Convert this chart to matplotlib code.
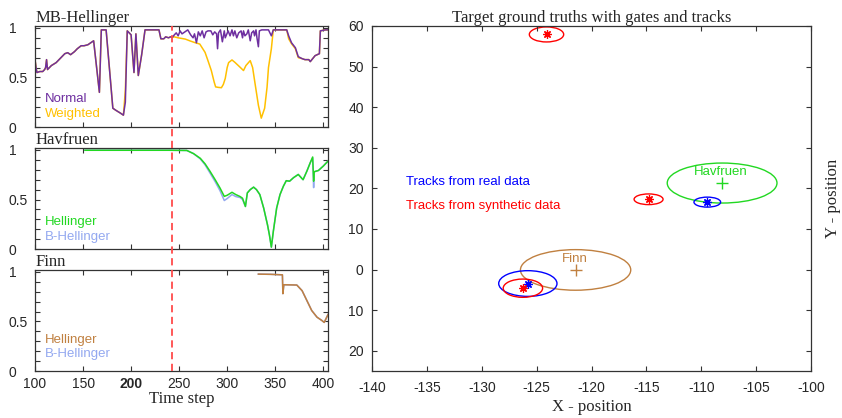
import numpy as np
import matplotlib
matplotlib.use("Agg")
import matplotlib.pyplot as plt
from matplotlib.patches import Ellipse
from matplotlib.lines import Line2D
from matplotlib.transforms import blended_transform_factory
from matplotlib.ticker import MultipleLocator

plt.rcParams['font.family'] = ['Liberation Sans', 'DejaVu Sans']
plt.rcParams['axes.unicode_minus'] = False
SERIF = ['Liberation Serif', 'DejaVu Serif']

# ---- MB-Hellinger panel ----
t_normal = [100, 101, 102, 105, 108, 110, 111, 112, 113, 117,
            122, 127, 131, 134, 137, 141, 144, 148, 151, 155,
            158, 161, 167, 169, 174, 181, 184, 189, 192, 194,
            196, 200, 203, 205, 207.5, 211, 214.5, 229, 231, 234,
            236, 239, 241, 243, 245, 247, 249, 251, 253, 256,
            259, 262, 264.5, 266, 268, 270, 272, 274, 276, 278,
            280, 283, 285, 287, 289, 290, 291, 293, 295, 297,
            298, 301, 303, 305, 306.5, 308, 310, 312, 314.5, 316,
            317, 318.5, 320.5, 322, 324, 325.5, 327.5, 328.5, 330, 331,
            332.5, 333.5, 336, 343, 346, 348, 362, 364, 367, 371,
            374, 378, 381, 385, 386.5, 389, 391.5, 396, 397, 402,
            405]
normal = [0.68, 0.60, 0.55, 0.56, 0.56, 0.58, 0.60, 0.68, 0.58, 0.62,
          0.65, 0.70, 0.74, 0.75, 0.73, 0.76, 0.79, 0.82, 0.82, 0.83,
          0.85, 0.87, 0.35, 0.98, 0.98, 0.19, 0.17, 0.14, 0.12, 0.25,
          0.97, 0.93, 0.55, 0.94, 0.52, 0.73, 0.98, 0.98, 0.89, 0.89,
          0.91, 0.90, 0.91, 0.905, 0.93, 0.95, 0.92, 0.97, 0.94, 0.96,
          0.98, 0.93, 0.90, 0.94, 0.85, 0.96, 0.92, 0.97, 0.90, 0.96,
          0.97, 0.97, 0.93, 0.96, 0.94, 0.79, 0.95, 0.98, 0.86, 0.97,
          0.90, 0.97, 0.92, 0.98, 0.92, 0.97, 0.90, 0.95, 0.97, 0.90,
          0.97, 0.92, 0.94, 0.98, 0.87, 0.95, 0.97, 0.92, 0.98, 0.90,
          0.81, 0.97, 0.98, 0.98, 0.92, 0.98, 0.98, 0.92, 0.85, 0.80,
          0.71, 0.69, 0.68, 0.68, 0.66, 0.69, 0.72, 0.74, 0.97, 0.98,
          0.98]

t_weighted = [100, 101, 102, 105, 108, 110, 111, 112, 113, 117,
              122, 127, 131, 134, 137, 141, 144, 148, 151, 155,
              158, 161, 167, 169, 174, 181, 184, 189, 192, 194,
              196, 200, 203, 205, 207.5, 211, 214.5, 229, 231, 234,
              236, 239, 241, 243, 245, 249, 256.5, 261, 266, 271.5,
              277, 280, 283.5, 286.5, 288, 291, 294, 296, 298, 300,
              301.5, 305, 308, 313.5, 317, 319.5, 324, 326.5, 329, 332.5,
              335.5, 339, 341.5, 343, 346, 348, 362, 364, 367, 371,
              374, 378, 381, 385, 386.5, 389, 391.5, 396, 397, 402,
              405]
weighted = [0.68, 0.60, 0.55, 0.56, 0.56, 0.58, 0.60, 0.68, 0.58, 0.62,
            0.65, 0.70, 0.74, 0.75, 0.73, 0.76, 0.79, 0.82, 0.82, 0.83,
            0.85, 0.87, 0.35, 0.98, 0.98, 0.19, 0.17, 0.14, 0.12, 0.37,
            0.97, 0.93, 0.55, 0.94, 0.52, 0.73, 0.98, 0.98, 0.89, 0.89,
            0.91, 0.90, 0.91, 0.905, 0.91, 0.90, 0.887, 0.87, 0.853, 0.837,
            0.753, 0.67, 0.57, 0.453, 0.405, 0.40, 0.397, 0.43, 0.49, 0.60,
            0.65, 0.677, 0.653, 0.603, 0.57, 0.62, 0.67, 0.60, 0.44, 0.22,
            0.09, 0.19, 0.40, 0.60, 0.79, 0.98, 0.98, 0.89, 0.84, 0.79,
            0.70, 0.69, 0.68, 0.68, 0.66, 0.69, 0.72, 0.74, 0.97, 0.98,
            0.98]

# ---- Havfruen panel ----
t_hav = [152, 200, 240, 258, 265, 272, 277, 282, 287.5, 292.5,
         297, 300, 305, 309, 313.5, 316, 319, 321, 324, 327.5,
         330.5, 334, 338, 342, 344, 346, 348, 351.5, 355, 358.5,
         361.5, 365, 369, 374, 379, 383, 386.5, 389, 390, 390.5,
         395, 400, 405]
hav_hell = [0.997, 0.997, 0.997, 0.995, 0.963, 0.916, 0.86, 0.787, 0.70, 0.617,
            0.532, 0.543, 0.573, 0.55, 0.53, 0.513, 0.43, 0.567, 0.60, 0.625,
            0.60, 0.55, 0.414, 0.244, 0.142, 0.02, 0.176, 0.414, 0.55, 0.634,
            0.69, 0.685, 0.72, 0.753, 0.70, 0.787, 0.872, 0.929, 0.685, 0.78,
            0.793, 0.837, 0.888]
hav_bhell = [0.997, 0.997, 0.997, 0.995, 0.963, 0.91, 0.85, 0.77, 0.68, 0.59,
             0.49, 0.51, 0.55, 0.53, 0.52, 0.50, 0.43, 0.567, 0.60, 0.625,
             0.60, 0.55, 0.414, 0.244, 0.142, 0.02, 0.176, 0.414, 0.55, 0.634,
             0.69, 0.685, 0.72, 0.753, 0.70, 0.787, 0.872, 0.92, 0.62, 0.78,
             0.793, 0.837, 0.888]

# ---- Finn panel ----
t_finn = [332.5, 345, 357.5, 358, 359, 372.5, 378, 383, 388, 393.5, 398.5, 401, 405]
finn_hell = [0.977, 0.975, 0.97, 0.78, 0.87, 0.867, 0.81, 0.71, 0.61, 0.543, 0.51, 0.49, 0.57]
finn_bhell = [0.977, 0.975, 0.97, 0.78, 0.87, 0.867, 0.81, 0.71, 0.61, 0.543, 0.51, 0.49, 0.57]

split_step = 243

# ---- right panel: gates and tracks ----
synth_x = [-124.1, -114.8, -126.25]
synth_y = [57.9, 17.3, -4.6]
synth_w = [3.13, 2.64, 3.59]
synth_h = [3.7, 2.63, 4.5]
real_x = [-109.45, -125.8]
real_y = [16.6, -3.45]
real_w = [2.43, 5.31]
real_h = [2.46, 6.33]
target_names = ['Havfruen', 'Finn']
target_x = [-108.1, -121.45]
target_y = [21.3, -0.1]
target_w = [10.0, 10.05]
target_h = [9.85, 10.0]
target_colors = ['#22D822', '#C08040']
y_ticks = [60, 50, 40, 30, 20, 10, 0, -10, -20]
y_ticklabels = ['60', '50', '40', '30', '20', '10', '0', '10', '20']

PURPLE = '#6E2FA0'
GOLD = '#FFC000'
GREEN = '#22D822'
LBLUE = '#93A8F0'
BROWN = '#C08040'
AXC = '#333333'
TXT = '#262626'

fig = plt.figure(figsize=(8.42, 4.18), dpi=100)

left_x, left_w = 0.0416, 0.348
ax1 = fig.add_axes([left_x, 0.696, left_w, 0.242])
ax2 = fig.add_axes([left_x, 0.404, left_w, 0.242])
ax3 = fig.add_axes([left_x, 0.1124, left_w, 0.242])
ax4 = fig.add_axes([0.4418, 0.1124, 0.5214, 0.8256])


def style_axes(ax):
    for s in ax.spines.values():
        s.set_color(AXC)
        s.set_linewidth(0.9)
    ax.tick_params(which='both', direction='in', top=True, right=True,
                   colors=AXC, labelcolor=TXT, labelsize=10,
                   length=3.5, width=0.8, pad=4)


for ax, title in zip([ax1, ax2, ax3], ['MB-Hellinger', 'Havfruen', 'Finn']):
    style_axes(ax)
    ax.set_xlim(100, 405)
    ax.set_ylim(0, 1.02)
    ax.xaxis.set_major_locator(MultipleLocator(50))
    ax.set_yticks([0, 0.5, 1])
    ax.set_yticklabels(['0', '0.5', '1'])
    ax.yaxis.set_minor_locator(MultipleLocator(0.1))
    ax.tick_params(axis='y', which='major', pad=19)
    for lab in ax.get_yticklabels():
        lab.set_horizontalalignment('left')
    ax.set_title(title, loc='left', family=SERIF, fontsize=12, pad=1, color=TXT)
    if ax is not ax3:
        ax.tick_params(labelbottom=False)

ax1.plot(t_weighted, weighted, color=GOLD, lw=1.1)
ax1.plot(t_normal, normal, color=PURPLE, lw=1.1)
ax1.text(0.035, 0.28, 'Normal', color=PURPLE, transform=ax1.transAxes, fontsize=9.5, va='center')
ax1.text(0.035, 0.125, 'Weighted', color=GOLD, transform=ax1.transAxes, fontsize=9.5, va='center')

ax2.plot(t_hav, hav_bhell, color=LBLUE, lw=1.1)
ax2.plot(t_hav, hav_hell, color=GREEN, lw=1.1)
ax2.text(0.035, 0.27, 'Hellinger', color=GREEN, transform=ax2.transAxes, fontsize=9.5, va='center')
ax2.text(0.035, 0.12, 'B-Hellinger', color=LBLUE, transform=ax2.transAxes, fontsize=9.5, va='center')

ax3.plot(t_finn, finn_bhell, color=LBLUE, lw=1.1)
ax3.plot(t_finn, finn_hell, color=BROWN, lw=1.1)
ax3.text(0.035, 0.305, 'Hellinger', color=BROWN, transform=ax3.transAxes, fontsize=9.5, va='center')
ax3.text(0.035, 0.165, 'B-Hellinger', color=LBLUE, transform=ax3.transAxes, fontsize=9.5, va='center')
ax3.set_xlabel('Time step', family=SERIF, fontsize=12, labelpad=0, color=TXT)
for lab in ax3.get_xticklabels():
    if lab.get_text() == '200':
        lab.set_fontweight('bold')

# dashed line spanning all three panels
trans = blended_transform_factory(ax3.transData, fig.transFigure)
fig.add_artist(Line2D([split_step, split_step], [0.1124, 0.938], transform=trans,
                      color='#FF4B4B', lw=1.3, linestyle=(0, (4, 2.5))))

# right panel
style_axes(ax4)
ax4.set_xlim(-140, -100)
ax4.set_ylim(-25, 60)
ax4.set_xticks(np.arange(-140, -99, 5))
ax4.set_yticks(y_ticks)
ax4.set_yticklabels(y_ticklabels)
ax4.tick_params(axis='y', pad=6)
ax4.tick_params(axis='x', pad=7)
ax4.set_title('Target ground truths with gates and tracks', family=SERIF, fontsize=12,
              pad=3, color=TXT)
ax4.set_xlabel('X - position', family=SERIF, fontsize=12, labelpad=3, color=TXT)
ax4.yaxis.set_label_position('right')
ax4.set_ylabel('Y - position', family=SERIF, fontsize=12, labelpad=10, color=TXT)

asterisk = (8, 2, 0)
for name, x, y, w, h, c in zip(target_names, target_x, target_y, target_w, target_h, target_colors):
    ax4.add_patch(Ellipse((x, y), w, h, fill=False, ec=c, lw=1.0))
    ax4.plot(x, y, marker='+', color=c, ms=8, mew=1.0, ls='none')
    ax4.text(x - 0.1, y + 2.8, name, color=c, fontsize=9.5, ha='center', va='center')
for x, y, w, h in zip(real_x, real_y, real_w, real_h):
    ax4.add_patch(Ellipse((x, y), w, h, fill=False, ec='#0000FF', lw=1.0))
    ax4.plot(x, y, marker=asterisk, color='#0000FF', ms=6, mew=0.9, ls='none')
for x, y, w, h in zip(synth_x, synth_y, synth_w, synth_h):
    ax4.add_patch(Ellipse((x, y), w, h, fill=False, ec='#FF0000', lw=1.0))
    ax4.plot(x, y, marker=asterisk, color='#FF0000', ms=6, mew=0.9, ls='none')

ax4.text(-136.9, 21.6, 'Tracks from real data', color='#0000FF', fontsize=9.5, va='center')
ax4.text(-136.9, 15.7, 'Tracks from synthetic data', color='#FF0000', fontsize=9.5, va='center')

fig.savefig('out.png', dpi=100)
